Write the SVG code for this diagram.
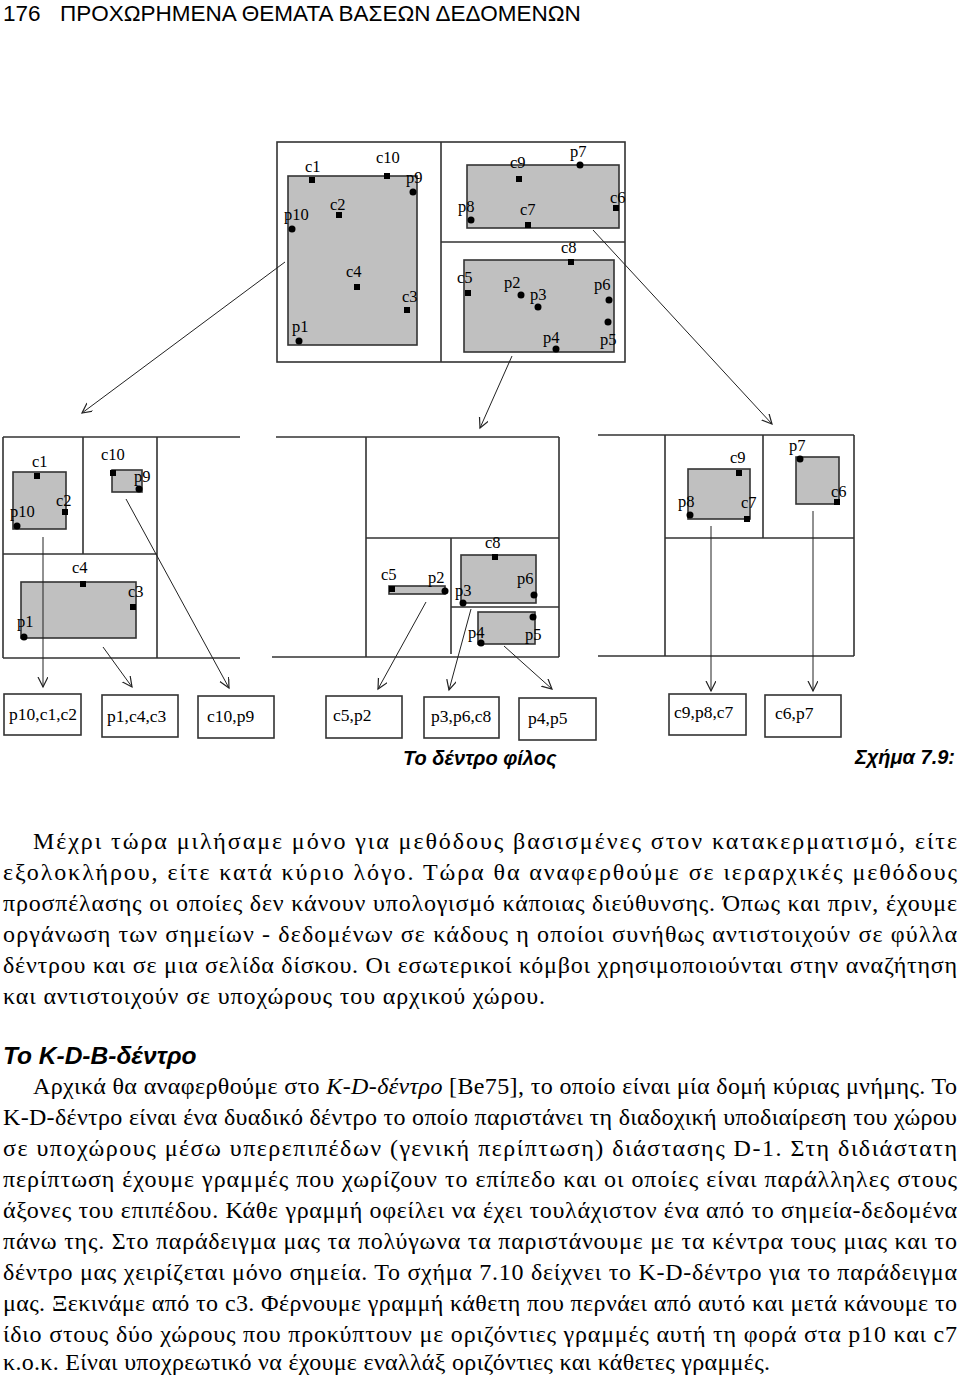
<svg xmlns="http://www.w3.org/2000/svg" width="960" height="1375" viewBox="0 0 960 1375">
<defs>
<marker id="ah" markerUnits="userSpaceOnUse" markerWidth="12" markerHeight="12" refX="10" refY="5" orient="auto">
<path d="M0,0 L10,5 L0,10" fill="none" stroke="#222" stroke-width="1.2"/>
</marker>
<style>
.ln{fill:none;stroke:#333;stroke-width:1.6}
.g{fill:#c0c0c0;stroke:#333;stroke-width:1.6}
.sq{fill:#000}
.dot{fill:#000}
.lbl{font-family:"Liberation Serif",serif;font-size:16.5px;fill:#000}
.leaf{fill:#fff;stroke:#333;stroke-width:1.6}
.lt{font-family:"Liberation Serif",serif;font-size:17.5px;fill:#000}
.arr{fill:none;stroke:#222;stroke-width:1;marker-end:url(#ah)}
.hdr{font-family:"Liberation Sans",Arial,sans-serif;font-size:22.5px;fill:#000}
.cap{font-family:"Liberation Sans",Arial,sans-serif;font-size:20px;font-weight:bold;font-style:italic;fill:#000}
.head{font-family:"Liberation Sans",Arial,sans-serif;font-size:24.5px;font-weight:bold;font-style:italic;fill:#000}
.body{font-family:"Liberation Serif","Times New Roman",serif;font-size:24px;fill:#000}
</style>
</defs>
<rect width="960" height="1375" fill="#fff"/>
<text class="hdr" x="3" y="21">176</text>
<text class="hdr" x="60" y="21">ΠΡΟΧΩΡΗΜΕΝΑ ΘΕΜΑΤΑ ΒΑΣΕΩΝ ΔΕΔΟΜΕΝΩΝ</text>

<g id="root">
<rect class="ln" x="277" y="142" width="348" height="220"/>
<path class="ln" d="M441,142 V362 M441,242 H625"/>
<rect class="g" x="288" y="176" width="129" height="169"/>
<rect class="g" x="467" y="165" width="152" height="63"/>
<rect class="g" x="464" y="260" width="150" height="92"/>
<rect class="sq" x="309" y="177" width="6" height="6"/>
<rect class="sq" x="384" y="173" width="6" height="6"/>
<rect class="sq" x="336" y="212" width="6" height="6"/>
<rect class="sq" x="354" y="284" width="6" height="6"/>
<rect class="sq" x="404" y="307" width="6" height="6"/>
<circle class="dot" cx="413" cy="192" r="3.5"/>
<circle class="dot" cx="292" cy="229" r="3.5"/>
<circle class="dot" cx="299" cy="341" r="3.5"/>
<text class="lbl" x="305" y="172">c1</text>
<text class="lbl" x="376" y="163">c10</text>
<text class="lbl" x="406" y="183">p9</text>
<text class="lbl" x="330" y="210">c2</text>
<text class="lbl" x="284" y="220">p10</text>
<text class="lbl" x="346" y="277">c4</text>
<text class="lbl" x="402" y="302">c3</text>
<text class="lbl" x="292" y="332">p1</text>
<circle class="dot" cx="580" cy="165" r="3.5"/>
<rect class="sq" x="516" y="176" width="6" height="6"/>
<circle class="dot" cx="471" cy="220" r="3.5"/>
<rect class="sq" x="525" y="222" width="6" height="6"/>
<rect class="sq" x="613" y="205" width="6" height="6"/>
<text class="lbl" x="570" y="157">p7</text>
<text class="lbl" x="510" y="168">c9</text>
<text class="lbl" x="458" y="212">p8</text>
<text class="lbl" x="520" y="215">c7</text>
<text class="lbl" x="610" y="203">c6</text>
<rect class="sq" x="568" y="259" width="6" height="6"/>
<rect class="sq" x="465" y="290" width="6" height="6"/>
<circle class="dot" cx="521" cy="295" r="3.5"/>
<circle class="dot" cx="538" cy="307" r="3.5"/>
<circle class="dot" cx="609" cy="300" r="3.5"/>
<circle class="dot" cx="608" cy="322" r="3.5"/>
<circle class="dot" cx="556" cy="349" r="3.5"/>
<text class="lbl" x="561" y="253">c8</text>
<text class="lbl" x="457" y="283">c5</text>
<text class="lbl" x="504" y="288">p2</text>
<text class="lbl" x="530" y="300">p3</text>
<text class="lbl" x="594" y="290">p6</text>
<text class="lbl" x="600" y="345">p5</text>
<text class="lbl" x="543" y="343">p4</text>
</g>

<g id="left-node">
<path class="ln" d="M3,437 H240 M3,658 H240 M3,437 V658 M157,437 V658 M3,554 H157 M83,437 V554"/>
<rect class="g" x="13" y="472" width="53" height="57"/>
<rect class="g" x="112" y="470" width="30" height="22"/>
<rect class="g" x="21" y="582" width="115" height="56"/>
<rect class="sq" x="34" y="473" width="6" height="6"/>
<rect class="sq" x="62" y="509" width="6" height="6"/>
<circle class="dot" cx="17" cy="526" r="3.5"/>
<rect class="sq" x="110" y="470" width="6" height="6"/>
<circle class="dot" cx="139" cy="489" r="3.5"/>
<rect class="sq" x="80" y="581" width="6" height="6"/>
<rect class="sq" x="130" y="604" width="6" height="6"/>
<circle class="dot" cx="24" cy="637" r="3.5"/>
<text class="lbl" x="32" y="467">c1</text>
<text class="lbl" x="56" y="506">c2</text>
<text class="lbl" x="10" y="517">p10</text>
<text class="lbl" x="101" y="460">c10</text>
<text class="lbl" x="134" y="482">p9</text>
<text class="lbl" x="72" y="573">c4</text>
<text class="lbl" x="128" y="597">c3</text>
<text class="lbl" x="17" y="627">p1</text>
</g>

<g id="mid-node">
<path class="ln" d="M276,437 H559 M272,657 H559 M366,437 V657 M559,437 V657 M366,538 H559 M451,538 V654 M451,607 H559"/>
<rect class="g" x="389" y="586" width="56" height="8"/>
<rect class="g" x="461" y="555" width="75" height="48"/>
<rect class="g" x="478" y="612" width="57" height="32"/>
<rect class="sq" x="389" y="586" width="6" height="6"/>
<circle class="dot" cx="445" cy="591" r="3.5"/>
<rect class="sq" x="492" y="554" width="6" height="6"/>
<circle class="dot" cx="534" cy="595" r="3.5"/>
<circle class="dot" cx="463" cy="603" r="3.5"/>
<circle class="dot" cx="533" cy="617" r="3.5"/>
<circle class="dot" cx="481" cy="643" r="3.5"/>
<text class="lbl" x="381" y="580">c5</text>
<text class="lbl" x="428" y="583">p2</text>
<text class="lbl" x="485" y="548">c8</text>
<text class="lbl" x="517" y="584">p6</text>
<text class="lbl" x="455" y="596">p3</text>
<text class="lbl" x="525" y="640">p5</text>
<text class="lbl" x="468" y="638">p4</text>
</g>

<g id="right-node">
<path class="ln" d="M598,435 H854 M598,656 H854 M665,435 V656 M854,435 V656 M665,538 H854 M763,435 V538"/>
<rect class="g" x="688" y="469" width="62" height="50"/>
<rect class="g" x="796" y="457" width="43" height="47"/>
<rect class="sq" x="736" y="470" width="6" height="6"/>
<circle class="dot" cx="690" cy="515" r="3.5"/>
<rect class="sq" x="744" y="516" width="6" height="6"/>
<circle class="dot" cx="800" cy="459" r="3.5"/>
<rect class="sq" x="834" y="499" width="6" height="6"/>
<text class="lbl" x="730" y="463">c9</text>
<text class="lbl" x="678" y="507">p8</text>
<text class="lbl" x="741" y="508">c7</text>
<text class="lbl" x="789" y="451">p7</text>
<text class="lbl" x="831" y="497">c6</text>
</g>

<g id="leaf1"><rect class="leaf" x="4" y="694" width="77" height="41"/><text class="lt" x="9" y="720">p10,c1,c2</text></g>
<g id="leaf2"><rect class="leaf" x="102" y="695" width="76" height="42"/><text class="lt" x="107" y="722">p1,c4,c3</text></g>
<g id="leaf3"><rect class="leaf" x="198" y="696" width="76" height="42"/><text class="lt" x="207" y="722">c10,p9</text></g>
<g id="leaf4"><rect class="leaf" x="326" y="696" width="76" height="42"/><text class="lt" x="333" y="721">c5,p2</text></g>
<g id="leaf5"><rect class="leaf" x="424" y="697" width="75" height="41"/><text class="lt" x="431" y="722">p3,p6,c8</text></g>
<g id="leaf6"><rect class="leaf" x="519" y="698" width="77" height="42"/><text class="lt" x="528" y="724">p4,p5</text></g>
<g id="leaf7"><rect class="leaf" x="669" y="694" width="77" height="41"/><text class="lt" x="674" y="718">c9,p8,c7</text></g>
<g id="leaf8"><rect class="leaf" x="765" y="695" width="76" height="42"/><text class="lt" x="775" y="719">c6,p7</text></g>

<g id="connectors">
<path class="arr" d="M285,262 L82,413"/>
<path class="arr" d="M512,356 L480,428"/>
<path class="arr" d="M593,230 L772,424"/>
<path class="arr" d="M43,537 L43,687"/>
<path class="arr" d="M103,647 L132,687"/>
<path class="arr" d="M126,499 L229,688"/>
<path class="arr" d="M426,602 L378,689"/>
<path class="arr" d="M471,609 L449,690"/>
<path class="arr" d="M504,646 L552,689"/>
<path class="arr" d="M711,526 L711,691"/>
<path class="arr" d="M813,511 L813,691"/>
</g>

<text class="cap" x="955" y="764" text-anchor="end">Σχήμα 7.9:</text>
<text class="cap" x="403" y="765">Το δέντρο φίλος</text>

<text class="body" x="33" y="849" textLength="924" lengthAdjust="spacing">Μέχρι τώρα μιλήσαμε μόνο για μεθόδους βασισμένες στον κατακερματισμό, είτε</text>
<text class="body" x="3" y="880" textLength="954" lengthAdjust="spacing">εξολοκλήρου, είτε κατά κύριο λόγο. Τώρα θα αναφερθούμε σε ιεραρχικές μεθόδους</text>
<text class="body" x="3" y="911" textLength="954" lengthAdjust="spacing">προσπέλασης οι οποίες δεν κάνουν υπολογισμό κάποιας διεύθυνσης. Όπως και πριν, έχουμε</text>
<text class="body" x="3" y="942" textLength="954" lengthAdjust="spacing">οργάνωση των σημείων - δεδομένων σε κάδους η οποίοι συνήθως αντιστοιχούν σε φύλλα</text>
<text class="body" x="3" y="973" textLength="954" lengthAdjust="spacing">δέντρου και σε μια σελίδα δίσκου. Οι εσωτερικοί κόμβοι χρησιμοποιούνται στην αναζήτηση</text>
<text class="body" x="3" y="1004" textLength="542" lengthAdjust="spacing">και αντιστοιχούν σε υποχώρους του αρχικού χώρου.</text>

<text class="head" x="3" y="1064">Το K-D-B-δέντρο</text>

<text class="body" x="33" y="1094" textLength="924" lengthAdjust="spacing">Αρχικά θα αναφερθούμε στο <tspan font-style="italic">K-D-δέντρο</tspan> [Be75], το οποίο είναι μία δομή κύριας μνήμης. Το</text>
<text class="body" x="3" y="1125" textLength="954" lengthAdjust="spacing">K-D-δέντρο είναι ένα δυαδικό δέντρο το οποίο παριστάνει τη διαδοχική υποδιαίρεση του χώρου</text>
<text class="body" x="3" y="1156" textLength="954" lengthAdjust="spacing">σε υποχώρους μέσω υπερεπιπέδων (γενική περίπτωση) διάστασης D-1. Στη διδιάστατη</text>
<text class="body" x="3" y="1187" textLength="954" lengthAdjust="spacing">περίπτωση έχουμε γραμμές που χωρίζουν το επίπεδο και οι οποίες είναι παράλληλες στους</text>
<text class="body" x="3" y="1218" textLength="954" lengthAdjust="spacing">άξονες του επιπέδου. Κάθε γραμμή οφείλει να έχει τουλάχιστον ένα από το σημεία-δεδομένα</text>
<text class="body" x="3" y="1249" textLength="954" lengthAdjust="spacing">πάνω της. Στο παράδειγμα μας τα πολύγωνα τα παριστάνουμε με τα κέντρα τους μιας και το</text>
<text class="body" x="3" y="1280" textLength="954" lengthAdjust="spacing">δέντρο μας χειρίζεται μόνο σημεία. Το σχήμα 7.10 δείχνει το K-D-δέντρο για το παράδειγμα</text>
<text class="body" x="3" y="1311" textLength="954" lengthAdjust="spacing">μας. Ξεκινάμε από το c3. Φέρνουμε γραμμή κάθετη που περνάει από αυτό και μετά κάνουμε το</text>
<text class="body" x="3" y="1342" textLength="954" lengthAdjust="spacing">ίδιο στους δύο χώρους που προκύπτουν με οριζόντιες γραμμές αυτή τη φορά στα p10 και c7</text>
<text class="body" x="3" y="1370" textLength="767" lengthAdjust="spacing">κ.ο.κ. Είναι υποχρεωτικό να έχουμε εναλλάξ οριζόντιες και κάθετες γραμμές.</text>
</svg>
